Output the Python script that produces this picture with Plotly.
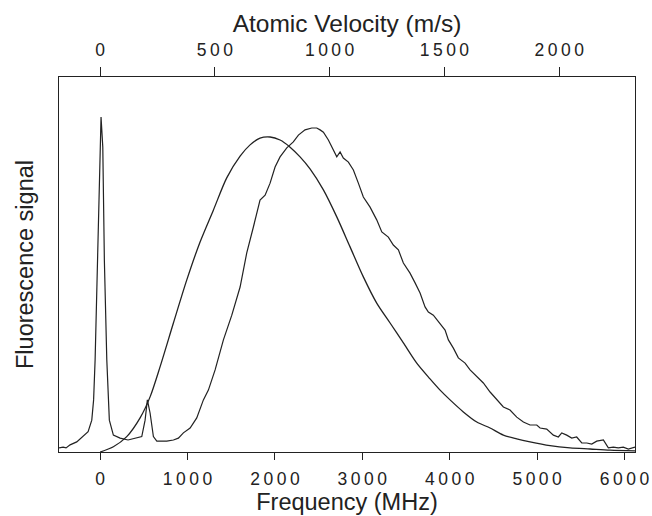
import plotly.graph_objects as go

# Measured fluorescence (noisy) trace: frequency (MHz) and signal (arb. units)
meas_freq = [-469, -423, -389, -343, -267, -194, -137, -95, -74, -57, -31, -8, 11, 31, 49, 77, 92, 106,
             152, 229, 320, 420, 477, 515, 541, 572, 610, 649, 763, 839, 896, 953, 1030, 1106, 1182,
             1239, 1316, 1411, 1507, 1602, 1678, 1754, 1830, 1888, 1945, 2002, 2059, 2136, 2211, 2269,
             2345, 2422, 2479, 2517, 2555, 2612, 2669, 2708, 2746, 2783, 2841, 2898, 2955, 3012, 3089,
             3165, 3223, 3298, 3355, 3413, 3470, 3546, 3604, 3661, 3718, 3756, 3813, 3890, 3947, 3985,
             4042, 4099, 4176, 4233, 4310, 4385, 4462, 4538, 4614, 4690, 4767, 4843, 4919, 4996, 5034,
             5110, 5186, 5243, 5282, 5339, 5396, 5453, 5511, 5568, 5625, 5682, 5758, 5815, 5872, 5929,
             5986, 6044, 6101, 6120]
meas_sig = [0.011, 0.013, 0.011, 0.019, 0.027, 0.041, 0.054, 0.085, 0.139, 0.245, 0.512, 0.779, 0.893,
            0.813, 0.512, 0.245, 0.139, 0.085, 0.045, 0.037, 0.032, 0.037, 0.041, 0.085, 0.139, 0.104,
            0.041, 0.029, 0.029, 0.032, 0.037, 0.051, 0.064, 0.091, 0.139, 0.165, 0.219, 0.299, 0.365,
            0.440, 0.531, 0.600, 0.672, 0.685, 0.717, 0.760, 0.787, 0.811, 0.827, 0.845, 0.859, 0.864,
            0.864, 0.859, 0.853, 0.832, 0.805, 0.787, 0.800, 0.784, 0.773, 0.752, 0.717, 0.680, 0.653,
            0.619, 0.587, 0.573, 0.552, 0.539, 0.504, 0.477, 0.451, 0.424, 0.387, 0.373, 0.365, 0.341,
            0.325, 0.299, 0.277, 0.251, 0.237, 0.219, 0.200, 0.184, 0.160, 0.139, 0.120, 0.112, 0.093,
            0.080, 0.072, 0.072, 0.064, 0.061, 0.045, 0.040, 0.051, 0.045, 0.037, 0.040, 0.024, 0.024,
            0.021, 0.029, 0.032, 0.011, 0.013, 0.011, 0.013, 0.008, 0.013, 0.013]

# Thermal (smooth) distribution curve
fit_freq = [0, 152, 305, 458, 572, 686, 839, 992, 1144, 1296, 1449, 1602, 1716, 1830, 1945, 2059, 2174,
            2288, 2402, 2555, 2708, 2860, 3012, 3165, 3318, 3470, 3623, 3775, 3890, 4004, 4156, 4310,
            4462, 4614, 4767, 4919, 5148, 5377, 5606, 5835, 6120]
fit_sig = [0.000, 0.014, 0.041, 0.091, 0.147, 0.227, 0.344, 0.459, 0.560, 0.645, 0.731, 0.789, 0.819,
           0.837, 0.840, 0.832, 0.813, 0.787, 0.755, 0.699, 0.627, 0.547, 0.467, 0.397, 0.344, 0.291,
           0.237, 0.195, 0.165, 0.139, 0.107, 0.080, 0.064, 0.045, 0.035, 0.027, 0.017, 0.011, 0.008,
           0.005, 0.003]

freq_ticks = [0, 1000, 2000, 3000, 4000, 5000, 6000]
vel_ticks = [0, 500, 1000, 1500, 2000]
freq_range = [-470, 6120]
vel_per_mhz = 0.3808  # m/s per MHz, from the two axis scales
vel_range = [freq_range[0] * vel_per_mhz, freq_range[1] * vel_per_mhz]


def spaced(n):
    return "\u2009".join(str(n))


ink = "#222222"
fig = go.Figure()
fig.add_trace(go.Scatter(x=fit_freq, y=fit_sig, mode="lines",
                         line=dict(color=ink, width=1.3, shape="spline", smoothing=0.8),
                         showlegend=False))
fig.add_trace(go.Scatter(x=meas_freq, y=meas_sig, mode="lines", line=dict(color=ink, width=1.2),
                         showlegend=False))
fig.add_trace(go.Scatter(x=vel_range, y=[None, None], xaxis="x2", mode="lines", showlegend=False,
                         hoverinfo="skip"))

font = "Liberation Sans, Arial, sans-serif"
fig.update_layout(
    width=652, height=516,
    margin=dict(l=59, r=17, t=77, b=64),
    paper_bgcolor="white", plot_bgcolor="white",
    font=dict(family=font, color=ink),
    xaxis=dict(range=freq_range, tickvals=freq_ticks, ticktext=[spaced(t) for t in freq_ticks],
               ticks="outside", ticklen=7, tickcolor=ink, showline=True, linecolor=ink, linewidth=1,
               showgrid=False, zeroline=False, tickfont=dict(size=17.5), automargin=False,
               ticklabelstandoff=4,
               title=dict(text="Frequency (MHz)", font=dict(size=23.5), standoff=0)),
    xaxis2=dict(range=vel_range, overlaying="x", side="top", tickvals=vel_ticks,
                ticktext=[spaced(t) for t in vel_ticks], ticks="outside", ticklen=9, tickcolor=ink,
                showline=True, linecolor=ink, linewidth=1, showgrid=False, zeroline=False,
                tickfont=dict(size=17.5), automargin=False, ticklabelstandoff=4,
                title=dict(text="Atomic Velocity (m/s)", font=dict(size=24.5), standoff=0)),
    yaxis=dict(range=[0, 1], showticklabels=False, ticks="", showline=True, mirror=True, linecolor=ink,
               linewidth=1, showgrid=False, zeroline=False, automargin=False,
               title=dict(text="Fluorescence signal", font=dict(size=23.5), standoff=17)),
)

fig.write_html("out.html", config={"displayModeBar": False},
               post_script="document.body.style.margin='0';")
